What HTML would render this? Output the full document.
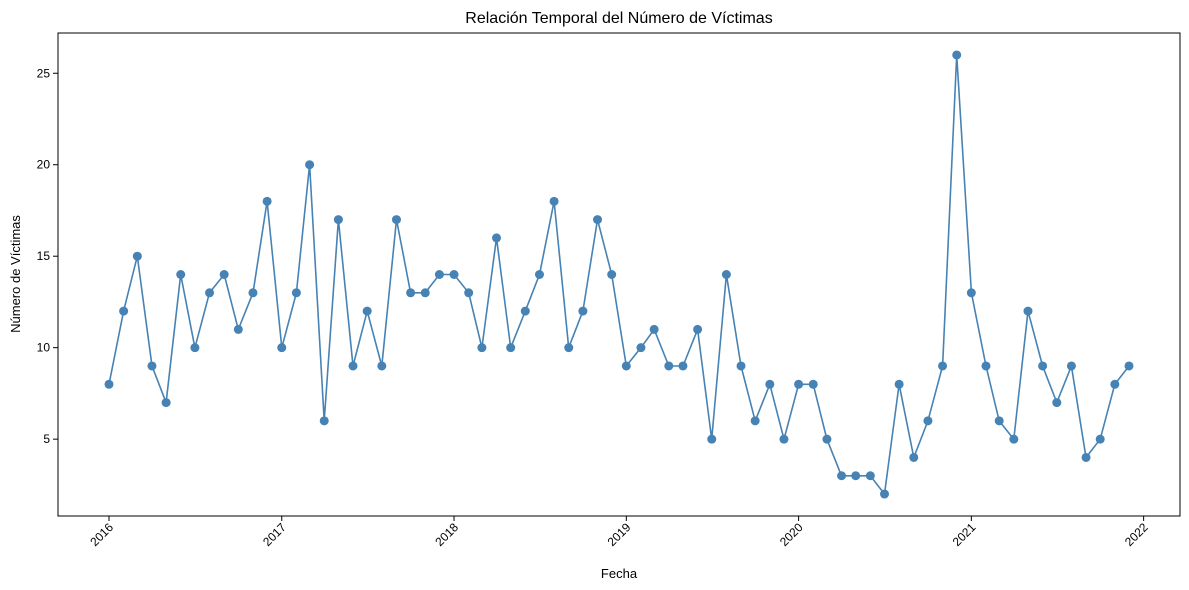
<!DOCTYPE html>
<html><head><meta charset="utf-8"><style>
html,body{margin:0;padding:0;background:#fff;}
svg{display:block;font-family:"Liberation Sans","DejaVu Sans",sans-serif;}
</style></head><body>
<svg id="chart" width="1189" height="590" xmlns="http://www.w3.org/2000/svg">
<text x="619" y="23" text-anchor="middle" font-size="16">Relación Temporal del Número de Víctimas</text>
<text x="619" y="578" text-anchor="middle" font-size="13">Fecha</text>
<text transform="translate(20,274) rotate(-90)" text-anchor="middle" font-size="13">Número de Víctimas</text>
<g id="axes"></g>
<g id="marks"></g>
<rect x="58" y="33" width="1122" height="483" fill="none" stroke="#000" stroke-width="1"/>
</svg>
<script>
const years = [2016,2017,2018,2019,2020,2021];
const victims = [
8,12,15,9,7,14,10,13,14,11,13,18,
10,13,20,6,17,9,12,9,17,13,13,14,
14,13,10,16,10,12,14,18,10,12,17,14,
9,10,11,9,9,11,5,14,9,6,8,5,
8,8,5,3,3,3,2,8,4,6,9,26,
13,9,6,5,12,9,7,9,4,5,8,9];
const xTickYears = [2016,2017,2018,2019,2020,2021,2022];
const yTicks = [5,10,15,20,25];

const NS="http://www.w3.org/2000/svg";
const L=58,R=1180,T=33,B=516;
const dates=[];years.forEach(y=>{for(let m=0;m<12;m++)dates.push(Date.UTC(y,m,1));});
const d0=dates[0],d1=dates[dates.length-1],dm=(d1-d0)*0.05;
const xMin=d0-dm,xMax=d1+dm;
const vmin=Math.min(...victims),vmax=Math.max(...victims),vm=(vmax-vmin)*0.05;
const yMin=vmin-vm,yMax=vmax+vm;
const xs=t=>L+(t-xMin)/(xMax-xMin)*(R-L);
const ys=v=>B-(v-yMin)/(yMax-yMin)*(B-T);
function mk(tag,attrs,parent){const e=document.createElementNS(NS,tag);for(const k in attrs)e.setAttribute(k,attrs[k]);parent.appendChild(e);return e;}
const axes=document.getElementById('axes'),marks=document.getElementById('marks');
xTickYears.forEach(y=>{
 const x=xs(Date.UTC(y,0,1));
 const tk=mk('line',{x1:x,x2:x,y1:B,y2:B+5,stroke:'#000'},axes);
 
 
 const t=mk('text',{'font-size':12,'text-anchor':'end',transform:`translate(${x+5},${B+12}) rotate(-45)`},axes);
 
 
 t.textContent=y;
});
yTicks.forEach(v=>{
 const y=ys(v);
 const tk=mk('line',{x1:L-5,x2:L,y1:y,y2:y,stroke:'#000'},axes);
 
 
 const t=mk('text',{'font-size':12,'text-anchor':'end',x:L-8,y:y+4},axes);
 
 
 t.textContent=v;
});
const pts=victims.map((v,i)=>xs(dates[i]).toFixed(1)+','+ys(v).toFixed(1)).join(' ');
const line=mk('polyline',{points:pts,fill:'none',stroke:'#4682b4','stroke-width':1.6},marks);


victims.forEach((v,i)=>{
 const c=mk('circle',{cx:xs(dates[i]),cy:ys(v),r:4.5,fill:'#4682b4'},marks);
 
 
});
</script>
</body></html>
